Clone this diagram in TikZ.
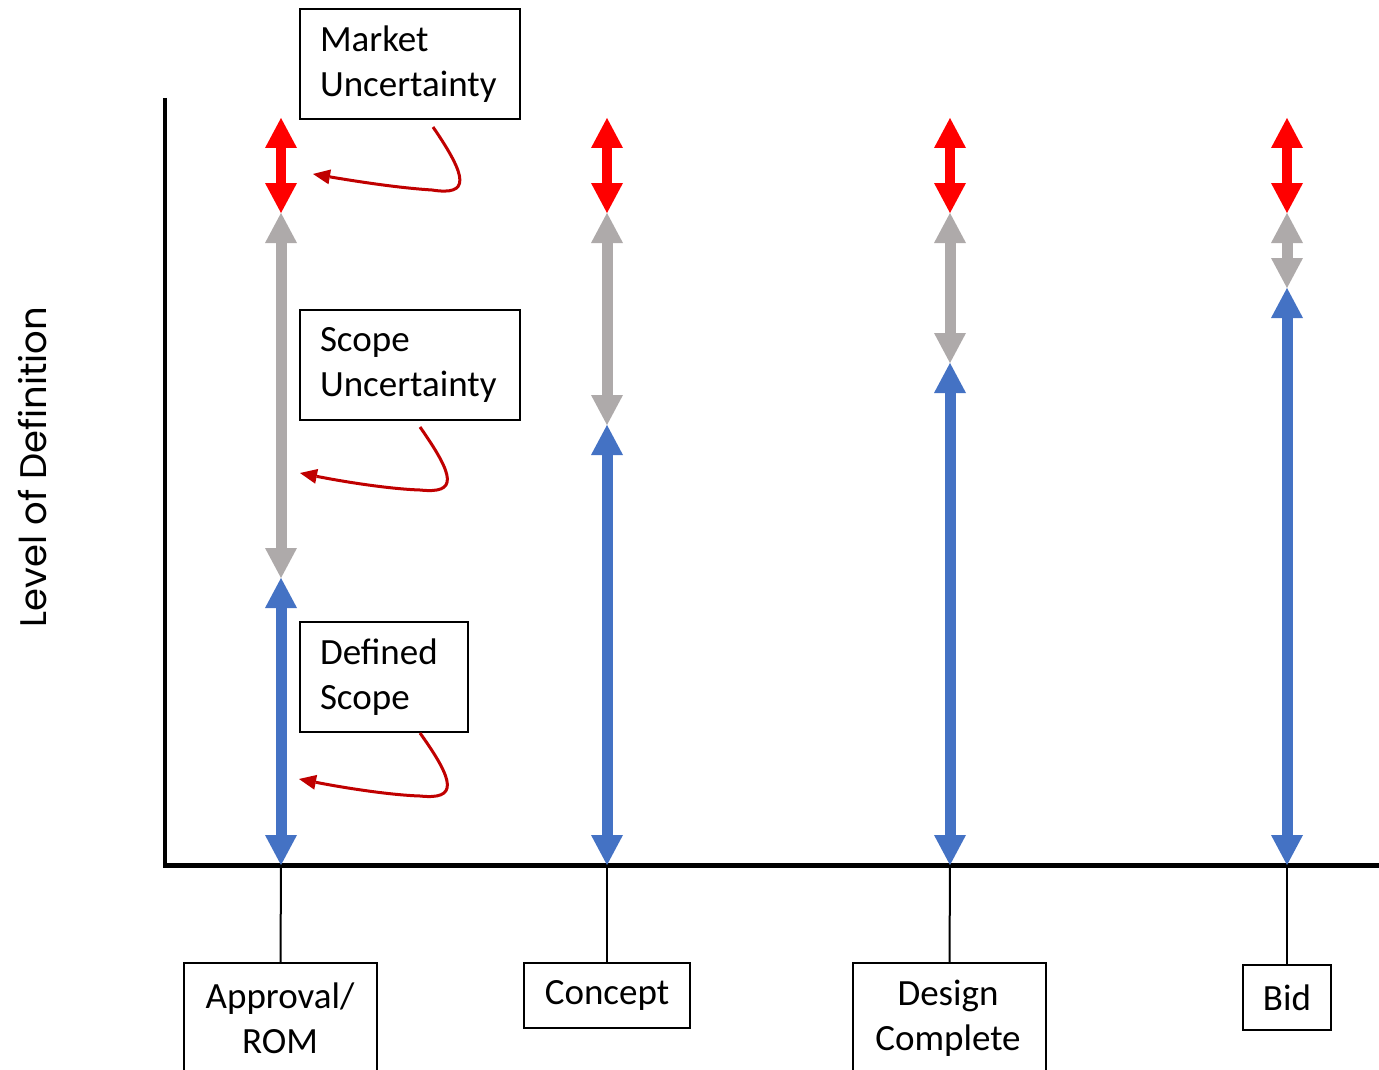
\documentclass[tikz,border=0pt]{standalone}
\usepackage{fontspec}
\setmainfont{Carlito}
\newfontfamily\gothic{Poppins}
\usetikzlibrary{arrows.meta}
\definecolor{mkred}{HTML}{FF0000}
\definecolor{scgray}{HTML}{AEAAAA}
\definecolor{dfblue}{HTML}{4472C4}
\definecolor{callred}{HTML}{C00000}
\begin{document}
\begin{tikzpicture}[x=1pt,y=-1pt,
  redrange/.style={draw=mkred,line width=10pt,{Triangle[width=32pt,length=30pt,line width=0pt]}-{Triangle[width=32pt,length=30pt,line width=0pt]}},
  grayrange/.style={draw=scgray,line width=11pt,{Triangle[width=32pt,length=30pt,line width=0pt]}-{Triangle[width=32pt,length=30pt,line width=0pt]}},
  bluerange/.style={draw=dfblue,line width=11pt,{Triangle[width=32pt,length=30pt,line width=0pt]}-{Triangle[width=32pt,length=30pt,line width=0pt]}},
  callout/.style={draw=callred,line width=3pt,-{Triangle[width=15pt,length=17pt,line width=0pt]}},
  labelbox/.style={draw=black,line width=2pt,fill=white,inner xsep=20pt,inner ysep=0pt,align=left,anchor=north west,font=\fontsize{37}{45}\selectfont},
  stagebox/.style={draw=black,line width=2pt,fill=white,inner sep=0pt,align=center,anchor=north,font=\fontsize{37}{45}\selectfont},
  tick/.style={draw=black,line width=2pt}
]
\useasboundingbox (0,0) rectangle (1379,1070);
\clip (0,0) rectangle (1379,1070);

% axes
\coordinate (ytop) at (165,98);
\coordinate (origin) at (165,867);
\coordinate (xstart) at (163,865);
\coordinate (xend) at (1385,865);
\draw[line width=4pt] (ytop) -- (origin);
\draw[line width=5pt] (xstart) -- (xend);

\node[rotate=90,font=\gothic\fontsize{37}{44}\selectfont] (ylab) at (33,467) {Level of Definition};

% column coordinates
\foreach \n/\x/\g in {1/281/578, 2/607/425, 3/950/363, 4/1287/288}{
  \coordinate (t\n) at (\x,118);
  \coordinate (m\n) at (\x,213);
  \coordinate (g\n) at (\x,\g);
  \coordinate (b\n) at (\x,865);
}

% stage boxes
\node[stagebox,minimum width=193pt,minimum height=120pt] (s1) at (280.5,962) {};
\node[font=\fontsize{37}{45}\selectfont,align=center] (s1t) at (280,1018) {Approval/\\ROM};
\node[stagebox,minimum width=166pt,minimum height=65pt] (s2) at (607,962) {Concept};
\node[stagebox,minimum width=193pt,minimum height=120pt] (s3) at (949.5,962) {};
\node[font=\fontsize{37}{45}\selectfont,align=center] (s3t) at (948,1018) {Design\\Complete};
\node[stagebox,minimum width=88pt,minimum height=65pt] (s4) at (1287,964) {Bid};

% ticks
\draw[tick] (b1) -- (s1.north);
\draw[tick] (b2) -- (s2.north);
\draw[tick] (b3) -- (s3.north);
\draw[tick] (b4) -- (s4.north);

% range arrows
\foreach \n in {1,2,3,4}{
  \draw[redrange] (t\n) -- (m\n);
  \draw[grayrange] (m\n) -- (g\n);
  \draw[bluerange] (g\n) -- (b\n);
}

% label boxes
\node[labelbox,minimum width=220pt,minimum height=110pt,text width=180pt] (mk) at (299,8) {Market\\Uncertainty};
\node[labelbox,minimum width=220pt,minimum height=110pt,text width=180pt] (sc) at (299,309) {Scope\\Uncertainty};
\node[labelbox,minimum width=168pt,minimum height=110pt,text width=128pt] (df) at (299,621) {Defined\\Scope};

% callouts
\coordinate (mkA) at (433,127);
\coordinate (mkB) at (313,174);
\draw[callout] (mkA) .. controls (468,178) and (470,196) .. (432,190) .. controls (400,188) and (360,182) .. (mkB);
\coordinate (scA) at (420,427);
\coordinate (scB) at (300,473);
\draw[callout] (scA) .. controls (455,477) and (458,494) .. (420,490) .. controls (390,489) and (345,482) .. (scB);
\coordinate (dfA) at (420,733);
\coordinate (dfB) at (299,779);
\draw[callout] (dfA) .. controls (455,782) and (458,800) .. (420,796) .. controls (390,795) and (345,788) .. (dfB);
\end{tikzpicture}
\end{document}
